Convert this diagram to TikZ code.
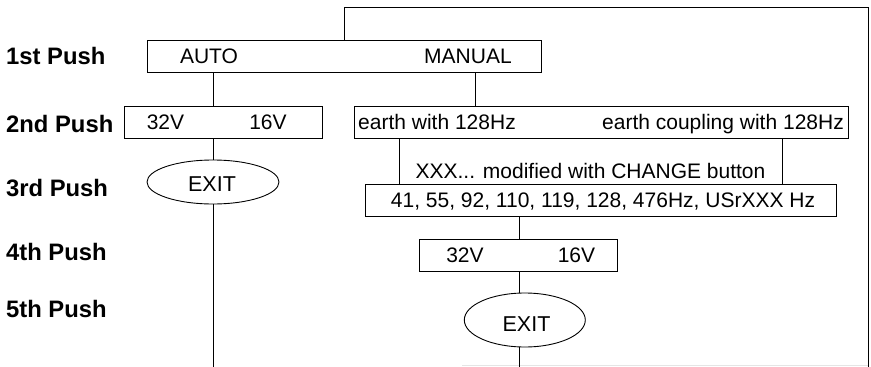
\documentclass[tikz,border=0pt]{standalone}
\usepackage{fontspec}
\setmainfont{Liberation Sans}
\usetikzlibrary{shapes.geometric}
\begin{document}
\begin{tikzpicture}[x=1pt,y=-1pt,
  line/.style={draw=black, line width=0.9pt},
  box/.style={draw=black, line width=0.9pt, rectangle, inner sep=0pt, minimum width=#1, minimum height=32pt},
  oval/.style={draw=black, line width=0.9pt, ellipse, inner sep=0pt},
  txt/.style={inner sep=0pt, anchor=base, font=\fontsize{21}{25}\selectfont},
  exittxt/.style={inner sep=0pt, anchor=base, font=\fontsize{21.5}{25}\selectfont},
  lab/.style={inner sep=0pt, anchor=base west, font=\fontsize{23.8}{27}\selectfont\bfseries}]
\useasboundingbox (0,0) rectangle (871,367);

% row labels
\node[lab] (l1) at (6,64.3) {1st Push};
\node[lab] (l2) at (6,132) {2nd Push};
\node[lab] (l3) at (6,196) {3rd Push};
\node[lab] (l4) at (6,260) {4th Push};
\node[lab] (l5) at (6,317) {5th Push};

% boxes
\node[box=394pt] (b1) at (344,56) {};
\node[txt] (auto) at (209,63) {AUTO};
\node[txt] (manual) at (468,63) {MANUAL};

\node[box=198pt] (b2) at (223,122) {};
\node[txt] (v32a) at (165.5,129.5) {32V};
\node[txt] (v16a) at (268,129.5) {16V};

\node[box=494pt] (b3) at (601,122) {};
\node[txt] (e1) at (437,129.5) {earth with 128Hz};
\node[txt] (e2) at (723,129.5) {earth coupling with 128Hz};

\node[txt] (mod) at (590.5,178.3) {XXX... modified with CHANGE button};

\node[box=471pt] (b5) at (601.3,200.7) {};
\node[txt] (freq) at (603,207) {41, 55, 92, 110, 119, 128, 476Hz, USrXXX Hz};

\node[box=198pt] (b4) at (518.8,255) {};
\node[txt] (v32b) at (465,262) {32V};
\node[txt] (v16b) at (576.5,262) {16V};

% ellipses
\node[oval, minimum width=132pt, minimum height=44pt] (exitL) at (213,182) {};
\node[exittxt] (exitLt) at (212,191) {EXIT};
\node[oval, minimum width=121pt, minimum height=54pt] (exitR) at (524.8,320) {};
\node[exittxt] (exitRt) at (526.5,331.7) {EXIT};

% helper coordinates
\coordinate (ftl) at (344,7);
\coordinate (ftr) at (868,7);
\coordinate (fbr) at (868,367);
\coordinate (xm) at (475.7,0);
\coordinate (xa) at (399,0);
\coordinate (xb) at (782,0);
\coordinate (xr) at (519,0);
\coordinate (bot) at (0,367);
\coordinate (g1) at (462,365.5);
\coordinate (g2) at (868,365.5);

% frame
\draw[line] (b1.north) -- (ftl) -- (ftr) -- (fbr);
\draw[gray!20, line width=0.8pt] (g1) -- (g2);

% left branch
\draw[line] (b1.south -| exitL) -- (b2.north -| exitL);
\draw[line] (b2.south -| exitL) -- (exitL.north);
\draw[line] (exitL.south) -- (exitL.south |- bot);

% right branch
\draw[line] (b1.south -| xm) -- (b3.north -| xm);
\draw[line] (b3.south -| xa) -- (b5.north -| xa);
\draw[line] (b3.south -| xb) -- (b5.north -| xb);
\draw[line] (b5.south -| xr) -- (b4.north -| xr);
\draw[line] (b4.south -| xr) -- (exitR.north -| xr);
\draw[line] (exitR.south -| xr) -- (xr |- bot);
\end{tikzpicture}
\end{document}
